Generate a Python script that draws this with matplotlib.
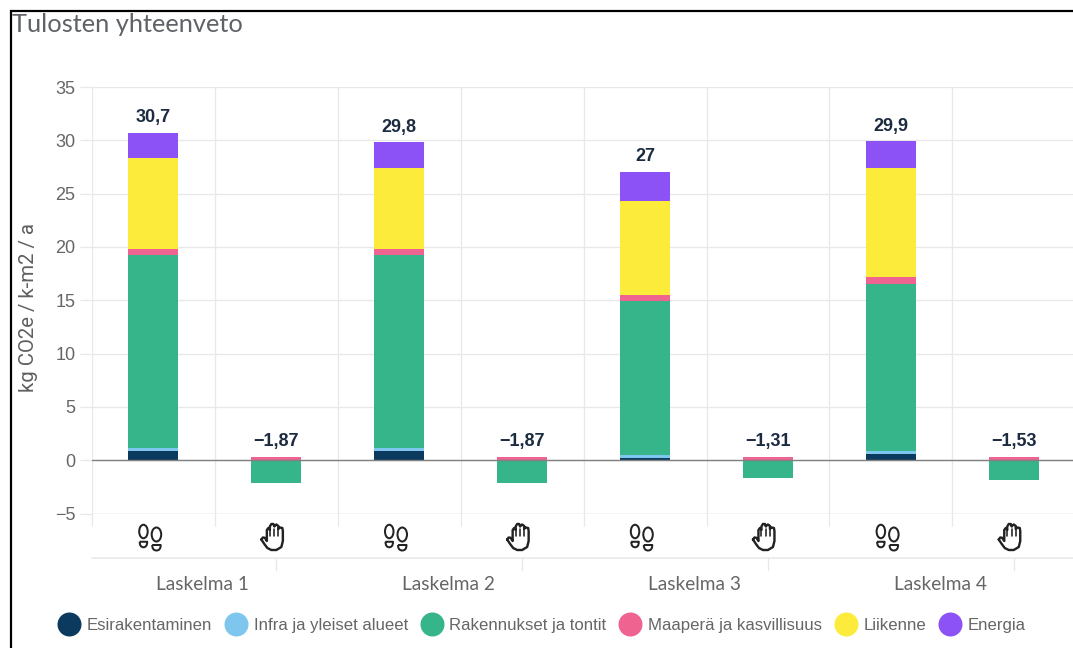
import matplotlib
matplotlib.use("Agg")
import matplotlib.pyplot as plt
from matplotlib.lines import Line2D
from matplotlib.patches import Ellipse, PathPatch
from matplotlib.path import Path
from matplotlib.ticker import FixedLocator
import numpy as np

# Each calculation has two columns: emissions (footprint) and sinks (handprint)
calculations = ["Laskelma 1", "Laskelma 2", "Laskelma 3", "Laskelma 4"]
totals = ["30,7", "\u22121,87", "29,8", "\u22121,87", "27", "\u22121,31", "29,9", "\u22121,53"]

esirakentaminen = [0.85, 0, 0.85, 0, 0.20, 0, 0.55, 0]
infra = [0.25, 0, 0.25, 0, 0.30, 0, 0.35, 0]
rakennukset = [18.10, -2.17, 18.10, -2.17, 14.40, -1.64, 15.60, -1.86]
maapera = [0.65, 0.30, 0.65, 0.30, 0.60, 0.33, 0.70, 0.33]
liikenne = [8.45, 0, 7.60, 0, 8.80, 0, 10.20, 0]
energia = [2.40, 0, 2.35, 0, 2.70, 0, 2.50, 0]

series = [
    ("Esirakentaminen", esirakentaminen, "#0b3a5e"),
    ("Infra ja yleiset alueet", infra, "#7fc6ee"),
    ("Rakennukset ja tontit", rakennukset, "#36b58a"),
    ("Maaperä ja kasvillisuus", maapera, "#ee6390"),
    ("Liikenne", liikenne, "#fdeb3c"),
    ("Energia", energia, "#8c52f5"),
]

W, H = 1073, 648
GRID = "#e8e8e8"
GREY = "#666666"
LABEL_FONT = "Lato"
BODY_FONT = "Liberation Sans"
PX = 0.72  # points per pixel at 100 dpi

fig = plt.figure(figsize=(W / 100, H / 100), dpi=100, facecolor="white")
top_px, bottom_px, left_px = 87, 513.5, 92
ax = fig.add_axes([left_px / W, 1 - bottom_px / H, (W - left_px) / W, (bottom_px - top_px) / H])
band = 122.9
ax.set_xlim(-0.5, (W - left_px) / band - 0.5)
ax.set_ylim(-5, 35)
ax.set_axisbelow(True)

# Stacked columns, positive and negative parts growing away from zero
x = np.arange(len(totals))
pos = np.zeros(len(x))
neg = np.zeros(len(x))
for name, values, color in series:
    v = np.array(values, dtype=float)
    base = np.where(v >= 0, pos, neg)
    ax.bar(x, v, 0.407, bottom=base, color=color, linewidth=0, zorder=2)
    pos += np.clip(v, 0, None)
    neg += np.clip(v, None, 0)

for xi, top, text in zip(x, pos, totals):
    ax.annotate(text, (xi, top), xytext=(0, 10.8 * PX), textcoords="offset points",
                ha="center", va="baseline", fontsize=18 * PX, fontweight="bold",
                family=BODY_FONT, color="#1c2b40", zorder=4)

ax.axhline(0, color="#808080", linewidth=1.4 * PX, zorder=3)

# Grid and ticks
for s in ax.spines.values():
    s.set_visible(False)
ax.set_yticks(np.arange(-5, 36, 5))
edges = np.arange(0, 8) - 0.5
ax.xaxis.set_major_locator(FixedLocator(edges))
ax.set_xticklabels([])
ax.grid(True, color=GRID, linewidth=1.3 * PX)
ax.tick_params(axis="x", color=GRID, length=12 * PX, width=1.3 * PX)
ax.tick_params(axis="y", color=GRID, length=12 * PX, width=1.3 * PX, pad=3.2,
               labelsize=18 * PX, labelcolor=GREY, labelfontfamily=BODY_FONT)
ax.axhline(-5, color="#d6d6d6", linewidth=1.3 * PX, zorder=1)

ax.set_ylabel("kg CO2e / k-m2 / a", fontsize=20.4 * PX, color="#5f5f5f", family="Roboto",
              va="center")
ax.yaxis.set_label_coords((29 - left_px) / (W - left_px), (bottom_px - 307) / (bottom_px - top_px))

# Second level of the category axis
def y_frac(px):
    return (bottom_px - px) / (bottom_px - top_px)

tr = ax.get_xaxis_transform()
ax.plot([-0.5, 7.5], [y_frac(558)] * 2, transform=tr, color=GRID, lw=1.5 * PX, clip_on=False)
for i, name in enumerate(calculations):
    ax.plot([2 * i + 1] * 2, [y_frac(558), y_frac(570)], transform=tr, color=GRID,
            lw=1.3 * PX, clip_on=False)
    ax.text(2 * i + 0.4, y_frac(584), name, transform=tr, ha="center", va="center",
            fontsize=19 * PX, color="#666666", family=LABEL_FONT, clip_on=False)

ax.legend(
    handles=[Line2D([], [], linestyle="none", marker="o", markersize=24 * PX, color=c,
                     markeredgewidth=0, label=n) for n, _, c in series],
    ncols=6, loc="center left", bbox_to_anchor=(57 / W, 1 - 625 / H),
    bbox_transform=fig.transFigure, frameon=False, borderpad=0, borderaxespad=0,
    handlelength=1.43, handleheight=1.0, handletextpad=0.34, columnspacing=0.70,
    prop={"family": BODY_FONT, "size": 16.8 * PX}, labelcolor=GREY,
)

fig.suptitle("Tulosten yhteenveto", x=12 / W, y=1 - 24 / H, ha="left", va="center",
             fontsize=25.4 * PX, color="#5f6368", family=LABEL_FONT)

# Overlay in pixel units for the frame and the two pictograms
ov = fig.add_axes([0, 0, 1, 1], facecolor="none")
ov.set_xlim(0, W)
ov.set_ylim(H, 0)
ov.axis("off")
ov.plot([W, 10.5, 10.5], [10.5, 10.5, H], color="black", lw=2.2 * PX, solid_joinstyle="miter")

INK = "#222222"

def footprints(cx, cy):
    lw = 2.0 * PX
    for dx, dy, w, h in [(-7, -5.5, 8.5, 13.5), (6, -2.5, 9.5, 14)]:
        ov.add_patch(Ellipse((cx + dx, cy + dy), w, h, fill=False, ec=INK, lw=lw))
        hy = cy + dy + h / 2 + 3.5
        l, r, m = cx + dx - w / 2 + 0.5, cx + dx + w / 2 - 0.5, cx + dx
        verts = [(l, hy), (r, hy), (r, hy + 5.5), (m, hy + 5.5), (l, hy + 5.5), (l, hy)]
        codes = [Path.MOVETO, Path.LINETO, Path.CURVE3, Path.CURVE3, Path.CURVE3, Path.CURVE3]
        ov.add_patch(PathPatch(Path(verts, codes), fill=False, ec=INK, lw=lw, joinstyle="round"))

def hand(cx, cy):
    outline = [(-11, 2.5), (-9.5, 0.5), (-7.5, 0.8), (-5.5, 4), (-5.5, -7), (-4, -9), (-2.5, -7),
               (-2.5, -10.5), (-1, -13), (1, -13), (2, -10.5), (2, -11), (4, -12.5), (6, -11),
               (6, -8), (7.5, -9.5), (10, -9), (10.5, -6), (10.5, 4), (9, 10), (4, 13),
               (-1, 13), (-5, 11), (-8, 7), (-11, 2.5)]
    ov.plot([cx + p[0] for p in outline], [cy + p[1] for p in outline], color=INK,
            lw=2.4 * PX, solid_joinstyle="round", solid_capstyle="round")
    for fx, y0 in [(-2.5, -1), (2, -1.5), (6, -1)]:
        ov.plot([cx + fx] * 2, [cy - 8, cy + y0], color=INK, lw=1.6 * PX, solid_capstyle="round")

for xi in x:
    centre = left_px + band * (xi + 0.5)
    if xi % 2 == 0:
        footprints(centre - 3, 537)
    else:
        hand(centre - 4, 537)

fig.savefig("out.png", dpi=100)
